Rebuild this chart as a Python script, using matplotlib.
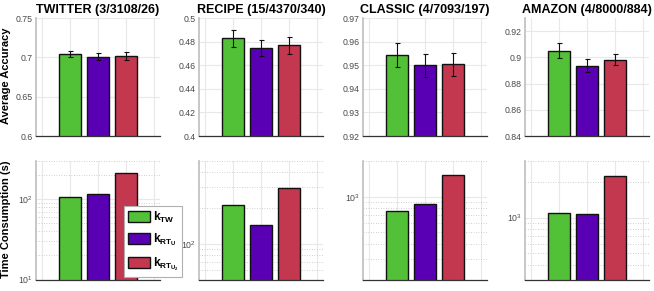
import numpy as np
import matplotlib
matplotlib.use("Agg")
import matplotlib.pyplot as plt
from matplotlib.patches import Patch
from matplotlib.ticker import FuncFormatter, LogLocator, NullFormatter

plt.rcParams["font.family"] = ["Liberation Sans", "DejaVu Sans"]
plt.rcParams["mathtext.fontset"] = "custom"
plt.rcParams["mathtext.rm"] = "Liberation Sans"
plt.rcParams["mathtext.it"] = "Liberation Sans:italic"
plt.rcParams["mathtext.bf"] = "Liberation Sans:bold"

# data
titles = ["TWITTER (3/3108/26)", "RECIPE (15/4370/340)",
          "CLASSIC (4/7093/197)", "AMAZON (4/8000/884)"]
methods = [r"$\mathbf{k_{TW}}$", r"$\mathbf{k_{RT_U}}$", r"$\mathbf{k_{RT_{U_2}}}$"]

acc_twitter = [0.7038, 0.7008, 0.7017]
acc_recipe = [0.4828, 0.4743, 0.4767]
acc_classic = [0.9544, 0.9499, 0.9503]
acc_amazon = [0.9051, 0.8936, 0.8982]

err_twitter = [0.0040, 0.0048, 0.0055]
err_recipe = [0.0070, 0.0068, 0.0071]
err_classic = [0.0050, 0.0048, 0.0050]
err_amazon = [0.0058, 0.0050, 0.0042]

time_twitter = [108, 115, 212]
time_recipe = [213, 145, 298]
time_classic = [764, 860, 1528]
time_amazon = [1094, 1073, 2250]

acc = [acc_twitter, acc_recipe, acc_classic, acc_amazon]
err = [err_twitter, err_recipe, err_classic, err_amazon]
times = [time_twitter, time_recipe, time_classic, time_amazon]

acc_ylims = [(0.6, 0.75), (0.4, 0.5), (0.92, 0.97), (0.84, 0.93)]
acc_ticks = [np.arange(0.6, 0.751, 0.05), np.arange(0.4, 0.501, 0.02),
             np.arange(0.92, 0.971, 0.01), np.arange(0.84, 0.921, 0.02)]
time_ylims = [(10, 300), (50, 500), (200, 2000), (300, 3000)]

colors = ["#53c138", "#5a00b4", "#c3374f"]
x = np.arange(1, 4)

fig = plt.figure(figsize=(6.54, 2.91), dpi=100)

lefts = [36, 199, 363, 525]
W, H = 654.0, 291.0
aw = 124 / W


def style(ax):
    ax.set_xlim(-0.2, 4.2)
    ax.set_xticks(range(0, 5))
    ax.set_xticklabels([])
    for s in ["top", "right"]:
        ax.spines[s].set_visible(False)
    ax.spines["left"].set_color("#bdbdbd")
    ax.spines["left"].set_linewidth(1.2)
    ax.spines["bottom"].set_color("#333333")
    ax.spines["bottom"].set_linewidth(0.9)
    ax.tick_params(length=0, labelsize=6.3, labelcolor="#4a4a4a", pad=2.5)
    ax.tick_params(which="minor", length=0)
    ax.set_axisbelow(True)
    ax.grid(True, which="major", color="#e8e8e8", lw=0.8, ls="-")


for i in range(4):
    l = lefts[i] / W
    # accuracy panel
    ax = fig.add_axes([l, 155 / H, aw, 118 / H])
    style(ax)
    ax.bar(x, acc[i], width=0.8, color=colors, edgecolor="#111111", lw=1.0)
    ax.errorbar(x, acc[i], yerr=err[i], fmt="none", ecolor="#111111",
                elinewidth=0.8, capsize=1.8, capthick=0.8)
    ax.set_ylim(*acc_ylims[i])
    ax.set_yticks(acc_ticks[i])
    ax.yaxis.set_major_formatter(FuncFormatter(lambda v, p: f"{v:g}"))
    ax.set_title(titles[i], fontsize=9, fontweight="bold", pad=3.5)

    # time panel
    bx = fig.add_axes([l, 11.5 / H, aw, 118.5 / H])
    bx.set_yscale("log")
    style(bx)
    bx.bar(x, times[i], width=0.8, color=colors, edgecolor="#111111", lw=1.0)
    bx.set_ylim(*time_ylims[i])
    bx.yaxis.set_minor_locator(LogLocator(base=10, subs=np.arange(2, 10)))
    bx.yaxis.set_minor_formatter(NullFormatter())
    bx.grid(True, which="minor", color="#c0c0c0", lw=0.6, ls=(0, (1, 2)))

fig.text(6.5 / W, 1 - 75.5 / H, "Average Accuracy", rotation=90, fontsize=8,
         fontweight="bold", ha="center", va="center")
fig.text(6.5 / W, 1 - 219.5 / H, "Time Consumption (s)", rotation=90, fontsize=8,
         fontweight="bold", ha="center", va="center")

handles = [Patch(facecolor=c, edgecolor="#111111", lw=1.0) for c in colors]
leg = fig.legend(handles, methods, loc="upper left",
                 bbox_to_anchor=(124 / W, 1 - 206 / H), borderaxespad=0,
                 fontsize=8.5, handlelength=1.9, handleheight=1.05,
                 handletextpad=0.25, labelspacing=0.6, borderpad=0.3,
                 fancybox=False, framealpha=1, edgecolor="#b0b0b0")
leg.get_frame().set_linewidth(0.8)

fig.savefig("out.png", dpi=100)
